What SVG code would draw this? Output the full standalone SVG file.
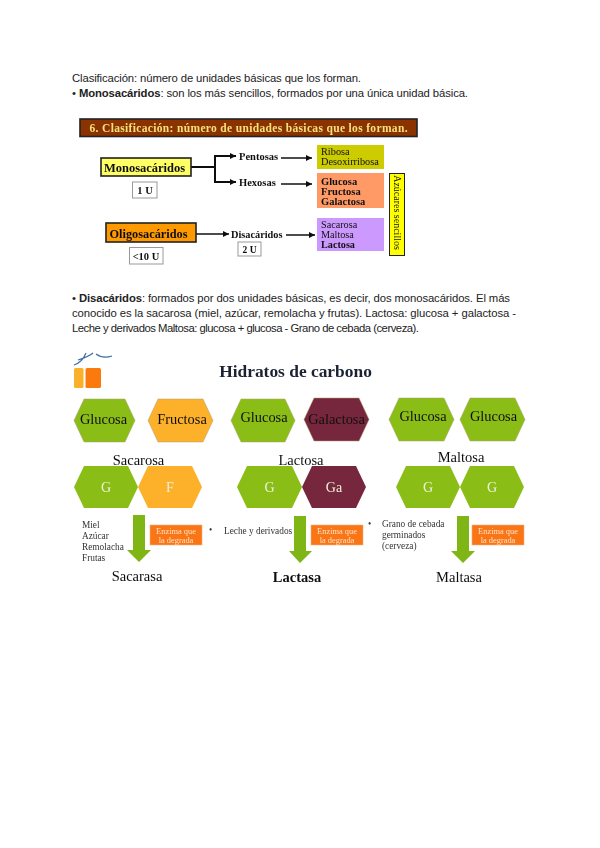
<svg xmlns="http://www.w3.org/2000/svg" width="600" height="848" viewBox="0 0 600 848">
<style>
.body{font:11.3px "Liberation Sans",Arial,sans-serif;fill:#222}
.s{font-family:"Liberation Serif","Times New Roman",serif;font-weight:bold;fill:#111}
.n{font-family:"Liberation Serif","Times New Roman",serif;fill:#111}
.c{text-anchor:middle}
.box{stroke:#222;stroke-width:1.6}
.ubox{fill:#fff;stroke:#999;stroke-width:1}
.line{fill:none;stroke:#111;stroke-width:1.5}
.hex{stroke:#a8a070;stroke-width:.5}
.g{fill:#8abd18}.o{fill:#fdb02a}.m{fill:#76263c}
.w{fill:#eef2dd;font-size:14px}
.enz{fill:#f97516;stroke:#f4b183;stroke-width:.6}
.enzt{font-size:8.4px;fill:#fde3c8}
.arr{fill:#80b518}
.small{font-size:9.300px;fill:#333}
.big{font-size:14.5px}
.hx{font-size:14.4px}
</style>
<defs>
<marker id="ah" markerUnits="userSpaceOnUse" markerWidth="7" markerHeight="7" refX="6" refY="3.5" orient="auto"><path d="M0 .5L6 3.5L0 6.5Z" fill="#111"/></marker>
<filter id="soft" x="-5%" y="-5%" width="110%" height="110%"><feGaussianBlur stdDeviation=".35"/></filter>
</defs>
<rect width="600" height="848" fill="#fff"/>

<g id="intro">
<text class="body" x="72" y="82" textLength="289" lengthAdjust="spacing">Clasificación: número de unidades básicas que los forman.</text>
<text class="body" x="72" y="97" textLength="396" lengthAdjust="spacing">• <tspan font-weight="bold">Monosacáridos</tspan>: son los más sencillos, formados por una única unidad básica.</text>
</g>

<g id="figure-1" filter="url(#soft)">
<g id="title-1"><rect x="80" y="119" width="337" height="17.5" fill="#8a3200" stroke="#222" stroke-width="1.6"/>
<text class="s c" x="248.500" y="132" font-size="11.500" style="fill:#f6e27a" textLength="318">6. Clasificación: número de unidades básicas que los forman.</text></g>
<g id="connectors-1">
<path class="line" style="stroke-width:2" d="M191 167H215"/>
<path class="line" style="stroke-width:2" d="M215 182V156H236" marker-end="url(#ah)"/>
<path class="line" style="stroke-width:2" d="M215 167V182H236" marker-end="url(#ah)"/>
<path class="line" d="M281 158H312" marker-end="url(#ah)"/>
<path class="line" d="M281 184H312" marker-end="url(#ah)"/>
<path class="line" d="M196 234H229" marker-end="url(#ah)"/>
<path class="line" d="M286 235H315" marker-end="url(#ah)"/>
</g>
<g id="monosacaridos"><rect class="box" x="101" y="158" width="90" height="18" fill="#ffff66"/><text class="s c" x="144.500" y="172" font-size="12.500">Monosacáridos</text></g>
<g id="u1"><rect class="ubox" x="132.500" y="182" width="24.500" height="16"/><text class="s c" x="145" y="194" font-size="10.500">1 U</text></g>
<g id="oligosacaridos"><rect class="box" x="106" y="223" width="90" height="19" fill="#ff9900"/><text class="s c" x="148.500" y="238" font-size="12.300">Oligosacáridos</text></g>
<g id="u10"><rect class="ubox" x="129.500" y="247.500" width="33.500" height="16.500"/><text class="s c" x="146" y="260" font-size="10.500">&lt;10 U</text></g>
<g id="pentosas"><text class="s" x="239" y="160" font-size="10.500">Pentosas</text></g>
<g id="hexosas"><text class="s" x="239" y="186" font-size="10.500">Hexosas</text></g>
<g id="disacaridos"><text class="s" x="231" y="238" font-size="10.300">Disacáridos</text></g>
<g id="u2"><rect class="ubox" x="238" y="242" width="23" height="14"/><text class="s c" x="249.500" y="252.500" font-size="9.500">2 U</text></g>
<g id="ribosa"><rect x="317" y="145" width="67" height="24" fill="#cccc00"/><text class="n" x="321" y="155" font-size="10.300">Ribosa</text><text class="n" x="321" y="165" font-size="10.300">Desoxirribosa</text></g>
<g id="glucosa-box"><rect x="317" y="173" width="67" height="35" fill="#ff9966"/><text class="s" x="321" y="185" font-size="10.500">Glucosa</text><text class="s" x="321" y="195" font-size="10.500">Fructosa</text><text class="s" x="321" y="205" font-size="10.500">Galactosa</text></g>
<g id="sacarosa-box"><rect x="317" y="218" width="67" height="33" fill="#cc99ff"/><text class="n" x="321" y="228" font-size="10.200">Sacarosa</text><text class="n" x="321" y="238" font-size="10.200">Maltosa</text><text class="s" x="321" y="248" font-size="10.200">Lactosa</text></g>
<g id="azucares"><rect x="389.500" y="173.500" width="15" height="82" fill="#ffff00" stroke="#222" stroke-width="1"/><text class="n c" transform="translate(393.500 212.500) rotate(90)" font-size="10">Azúcares sencillos</text></g>
</g>

<g id="parrafo">
<text class="body" x="72" y="302" textLength="438" lengthAdjust="spacing">• <tspan font-weight="bold">Disacáridos</tspan>: formados por dos unidades básicas, es decir, dos monosacáridos. El más</text>
<text class="body" x="72" y="317" textLength="444" lengthAdjust="spacing">conocido es la sacarosa (miel, azúcar, remolacha y frutas). Lactosa: glucosa + galactosa -</text>
<text class="body" x="72" y="332" textLength="347" lengthAdjust="spacing">Leche y derivados Maltosa: glucosa + glucosa - Grano de cebada (cerveza).</text>
</g>

<g id="figure-2" filter="url(#soft)">
<g id="logo"><path d="M74 365C80 363 84 358 86 353M78 360C84 358 90 356 93 353M96 354C100 357 106 358 112 356" fill="none" stroke="#3f6ea5" stroke-width="1.200"/>
<rect x="74" y="368" width="9.500" height="20" rx="1.500" fill="#fbb02a"/><rect x="85.500" y="368" width="15.500" height="20" rx="1.500" fill="#fb7a10"/></g>
<g id="title-2"><text class="s c" x="295.500" y="377" font-size="17.400" style="fill:#1a2233">Hidratos de carbono</text></g>

<g id="h1"><polygon class="hex g" points="74,420.500 84,399 125,399 135,420.500 125,442 84,442"/><text class="n c hx" x="103.500" y="424">Glucosa</text></g>
<g id="h2"><polygon class="hex o" points="148,420.500 158,399 203,399 213,420.500 203,442 158,442"/><text class="n c hx" x="182" y="424">Fructosa</text></g>
<g id="h3"><polygon class="hex g" points="231,420.500 241,399 285,399 295,420.500 285,442 241,442"/><text class="n c hx" x="264" y="422">Glucosa</text></g>
<g id="h4"><polygon class="hex m" points="304,419.500 314,398 359,398 369,419.500 359,441 314,441"/><text class="n c hx" x="336.500" y="424">Galactosa</text></g>
<g id="h5"><polygon class="hex g" points="389,419.500 399,398 444,398 454,419.500 444,441 399,441"/><text class="n c hx" x="423" y="421">Glucosa</text></g>
<g id="h6"><polygon class="hex g" points="460,419.500 470,398 515,398 525,419.500 515,441 470,441"/><text class="n c hx" x="493.500" y="421">Glucosa</text></g>

<g id="l-sacarosa"><text class="n c big" x="138.500" y="465">Sacarosa</text></g>
<g id="l-lactosa"><text class="n c big" x="301" y="465">Lactosa</text></g>
<g id="l-maltosa"><text class="n c big" x="461" y="462">Maltosa</text></g>

<g id="g1"><polygon class="g" points="74,487 84,466 128,466 138,487 128,508 84,508"/><text class="n c w" x="106" y="492">G</text></g>
<g id="f1"><polygon class="o" points="138,487 148,466 192,466 202,487 192,508 148,508"/><text class="n c w" x="170" y="492">F</text></g>
<g id="g2"><polygon class="g" points="237,487 247,466 292,466 302,487 292,508 247,508"/><text class="n c w" x="269.500" y="492">G</text></g>
<g id="ga"><polygon class="m" points="302,487 312,466 356,466 366,487 356,508 312,508"/><text class="n c w" x="334" y="492">Ga</text></g>
<g id="g3"><polygon class="g" points="396,487 406,466 450,466 460,487 450,508 406,508"/><text class="n c w" x="428" y="492">G</text></g>
<g id="g4"><polygon class="g" points="460,487 470,466 514,466 524,487 514,508 470,508"/><text class="n c w" x="492" y="492">G</text></g>

<g id="connectors-2">
<polygon class="arr" points="133,515 145,515 145,550 151,550 139,562 127,550 133,550"/>
<polygon class="arr" points="294,516 306,516 306,551 312,551 300,563 289,551 294,551"/>
<polygon class="arr" points="457,516 469,516 469,551 475,551 463,563 451,551 457,551"/>
</g>

<g id="e1"><rect class="enz" x="150" y="525" width="52" height="20"/><text class="n c enzt" x="176" y="533.500" style="fill:#fde3c8">Enzima que</text><text class="n c enzt" x="176" y="542.500" style="fill:#fde3c8">la degrada</text></g>
<g id="e2"><rect class="enz" x="311" y="525" width="52" height="20"/><text class="n c enzt" x="337" y="533.500" style="fill:#fde3c8">Enzima que</text><text class="n c enzt" x="337" y="542.500" style="fill:#fde3c8">la degrada</text></g>
<g id="e3"><rect class="enz" x="472" y="525" width="52" height="20"/><text class="n c enzt" x="498" y="533.500" style="fill:#fde3c8">Enzima que</text><text class="n c enzt" x="498" y="542.500" style="fill:#fde3c8">la degrada</text></g>

<g id="list-1"><text class="n small" x="82" y="528">Miel</text><text class="n small" x="82" y="539">Azúcar</text><text class="n small" x="82" y="550">Remolacha</text><text class="n small" x="82" y="561">Frutas</text></g>
<g id="list-2"><text class="n small" x="209" y="533">•</text><text class="n small" x="224" y="534">Leche y derivados</text></g>
<g id="list-3"><text class="n small" x="368" y="527">•</text><text class="n small" x="382" y="527">Grano de cebada</text><text class="n small" x="382" y="538">germinados</text><text class="n small" x="382" y="549">(cerveza)</text></g>

<g id="l-sacarasa"><text class="n c big" x="137" y="581">Sacarasa</text></g>
<g id="l-lactasa"><text class="s c big" x="297" y="582">Lactasa</text></g>
<g id="l-maltasa"><text class="n c big" x="459" y="582">Maltasa</text></g>
</g>
</svg>
